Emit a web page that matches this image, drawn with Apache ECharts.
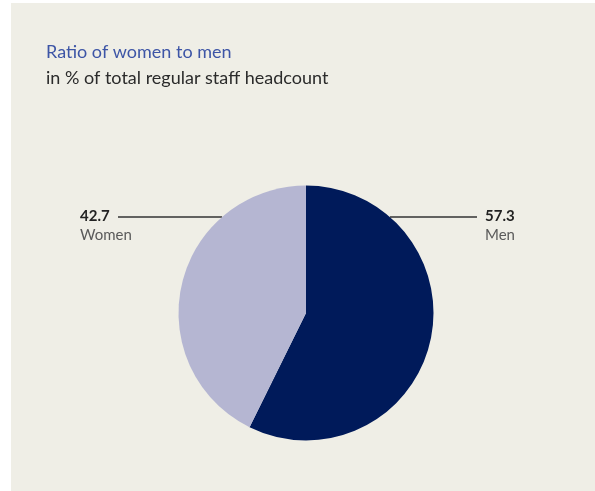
<!DOCTYPE html>
<html>
<head>
<meta charset="utf-8">
<script src="https://cdn.jsdelivr.net/npm/echarts@6/dist/echarts.min.js"></script>
<style>
html,body{margin:0;padding:0;background:#ffffff;}
#chart{width:595px;height:491px;}
</style>
</head>
<body>
<div id="chart"></div>
<script>
const categories = ['Men', 'Women'];
const values = [57.3, 42.7];
const valueLabels = ['57.3', '42.7'];
const colors = ['#001a5a', '#b5b6d2'];

const cx = 306, cy = 313, R = 127.5;
const lineY = 217;

const chart = echarts.init(document.getElementById('chart'), null, {renderer: 'canvas'});
const option = {
  backgroundColor: '#ffffff',
  animation: false,
  graphic: [{
    type: 'rect', z: -10, silent: true,
    shape: {x: 11, y: 3, width: 584, height: 488},
    style: {fill: '#efeee6'}
  }],
  title: [
    {text: 'Ratio of women to men', left: 41, top: 38,
     textStyle: {fontFamily: 'Lato', fontWeight: 'normal', fontSize: 18, color: '#3d55a6'}},
    {text: 'in % of total regular staff headcount', left: 41, top: 64,
     textStyle: {fontFamily: 'Lato', fontWeight: 'normal', fontSize: 18, color: '#2b2b2b'}}
  ],
  series: [{
    type: 'pie',
    center: [cx, cy],
    radius: [0, R],
    startAngle: 90,
    clockwise: true,
    avoidLabelOverlap: false,
    data: categories.map((c, i) => ({name: c, value: values[i], itemStyle: {color: colors[i]}})),
    label: {
      show: true,
      position: 'outside',
      formatter: p => '{v|' + valueLabels[p.dataIndex] + '}\n{n|' + p.name + '}',
      rich: {
        v: {fontFamily: 'Lato', fontWeight: 'bold', fontSize: 15, color: '#222222', lineHeight: 19},
        n: {fontFamily: 'Lato', fontSize: 15, color: '#5a5a5a', lineHeight: 19}
      }
    },
    labelLine: {show: true, lineStyle: {color: '#333333', width: 1.3}},
    labelLayout: function (params) {
      const dy = cy - lineY;
      const dx = Math.sqrt(R * R - dy * dy);
      if (params.dataIndex === 0) {
        return {x: 485, y: lineY - 10, align: 'left', verticalAlign: 'top',
          labelLinePoints: [[cx + dx, lineY], [cx + dx, lineY], [477, lineY]]};
      } else {
        return {x: 80, y: lineY - 10, align: 'left', verticalAlign: 'top',
          labelLinePoints: [[cx - dx, lineY], [cx - dx, lineY], [118, lineY]]};
      }
    }
  }]
};
chart.setOption(option);
</script>
</body>
</html>
